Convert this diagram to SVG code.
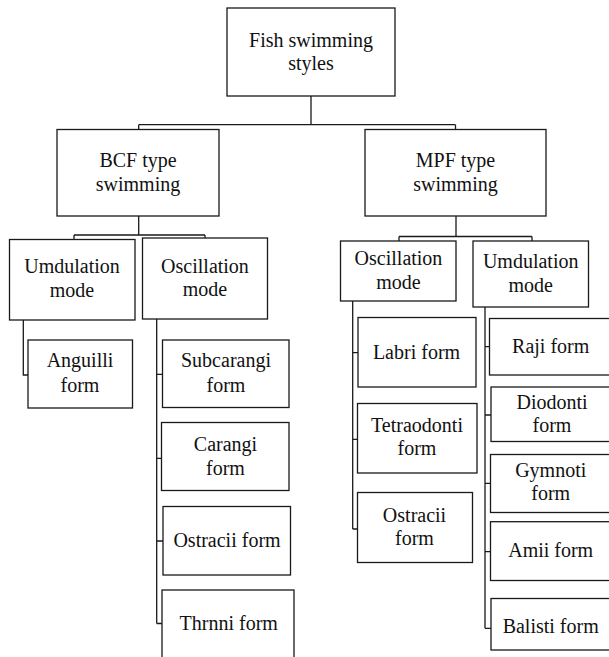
<svg xmlns="http://www.w3.org/2000/svg" width="609" height="657" viewBox="0 0 609 657">
<style>
rect{fill:#fff;stroke:#1a1a1a;stroke-width:1.3}
text{font-family:'Liberation Serif','Tinos','Times New Roman','Noto Serif','DejaVu Serif',serif;font-size:20px;fill:#111;text-anchor:middle}
#connectors path{fill:none;stroke:#1a1a1a;stroke-width:1.3}
</style>
<rect x="0" y="0" width="609" height="657" style="fill:#fff;stroke:none"/>
<g id="connectors">
<path d="M311,96 V124.7 M138.7,124.7 H455.5 M138.7,124.7 V129.5 M455.5,124.7 V129.5"/>
<path d="M138.7,216 V235 M74,235 H205 M74,235 V239.5 M205,235 V238"/>
<path d="M456,216 V236.5 M399,236.5 H532 M399,236.5 V241 M532,236.5 V241"/>
<path d="M23.3,320 V375 H28"/>
<path d="M156.7,319 V623.5 M156.7,374.3 H162.5 M156.7,458.3 H161.5 M156.7,541 H163 M156.7,623.5 H162"/>
<path d="M352.7,301 V529 M352.7,352.7 H358 M352.7,439.3 H357.5 M352.7,529 H357.5"/>
<path d="M485,307 V628.3 M485,346.7 H489.5 M485,415 H491 M485,483.3 H490.5 M485,551.7 H490.5 M485,628.3 H491"/>
</g>
<g id="root"><rect x="227" y="8" width="168" height="88"/><text x="311" y="47">Fish swimming</text><text x="311" y="70">styles</text></g>
<g id="bcf"><rect x="57" y="129.5" width="162" height="86.5"/><text x="138" y="167">BCF type</text><text x="138" y="191">swimming</text></g>
<g id="mpf"><rect x="365" y="129.5" width="181" height="86.5"/><text x="455.5" y="167">MPF type</text><text x="455.5" y="191">swimming</text></g>
<g id="bcf-umdulation"><rect x="9.5" y="239.5" width="125.5" height="80.5"/><text x="72" y="273">Umdulation</text><text x="72" y="297">mode</text></g>
<g id="bcf-oscillation"><rect x="142.5" y="238" width="125" height="81"/><text x="205" y="272.5">Oscillation</text><text x="205" y="296">mode</text></g>
<g id="anguilli"><rect x="28" y="340" width="104.5" height="68"/><text x="80" y="367">Anguilli</text><text x="80" y="391.5">form</text></g>
<g id="subcarangi"><rect x="162.5" y="340" width="126.5" height="67.5"/><text x="226" y="367">Subcarangi</text><text x="226" y="391.5">form</text></g>
<g id="carangi"><rect x="161.5" y="422.5" width="127.5" height="68"/><text x="225.5" y="450.5">Carangi</text><text x="225.5" y="474.5">form</text></g>
<g id="bcf-ostracii"><rect x="163" y="506.5" width="127.5" height="68.5"/><text x="227" y="546.5">Ostracii form</text></g>
<g id="thrnni"><rect x="162" y="590" width="132" height="80"/><text x="228.7" y="630">Thrnni form</text></g>
<g id="mpf-oscillation"><rect x="340.5" y="241" width="115.5" height="60"/><text x="398.5" y="265">Oscillation</text><text x="398.5" y="289">mode</text></g>
<g id="mpf-umdulation"><rect x="473" y="241" width="115.5" height="66"/><text x="530.7" y="268">Umdulation</text><text x="530.7" y="291.7">mode</text></g>
<g id="labri"><rect x="358" y="317.5" width="118" height="69.5"/><text x="416.5" y="358.5">Labri form</text></g>
<g id="tetraodonti"><rect x="357.5" y="403.5" width="119.5" height="69.5"/><text x="417" y="431.5">Tetraodonti</text><text x="417" y="455">form</text></g>
<g id="mpf-ostracii"><rect x="357.5" y="492.5" width="115" height="70"/><text x="414.5" y="521.5">Ostracii</text><text x="414.5" y="544.5">form</text></g>
<g id="raji"><rect x="489.5" y="318.5" width="130" height="56.5"/><text x="550.7" y="352.5">Raji form</text></g>
<g id="diodonti"><rect x="491" y="387" width="130" height="54.5"/><text x="552" y="408.5">Diodonti</text><text x="552" y="431.5">form</text></g>
<g id="gymnoti"><rect x="490.5" y="454.5" width="130" height="58"/><text x="550.7" y="476.5">Gymnoti</text><text x="550.7" y="500">form</text></g>
<g id="amii"><rect x="490.5" y="521.7" width="130" height="58.8"/><text x="550.7" y="556.5">Amii form</text></g>
<g id="balisti"><rect x="491" y="598.5" width="130" height="51.5"/><text x="550.7" y="633.3">Balisti form</text></g>
</svg>
